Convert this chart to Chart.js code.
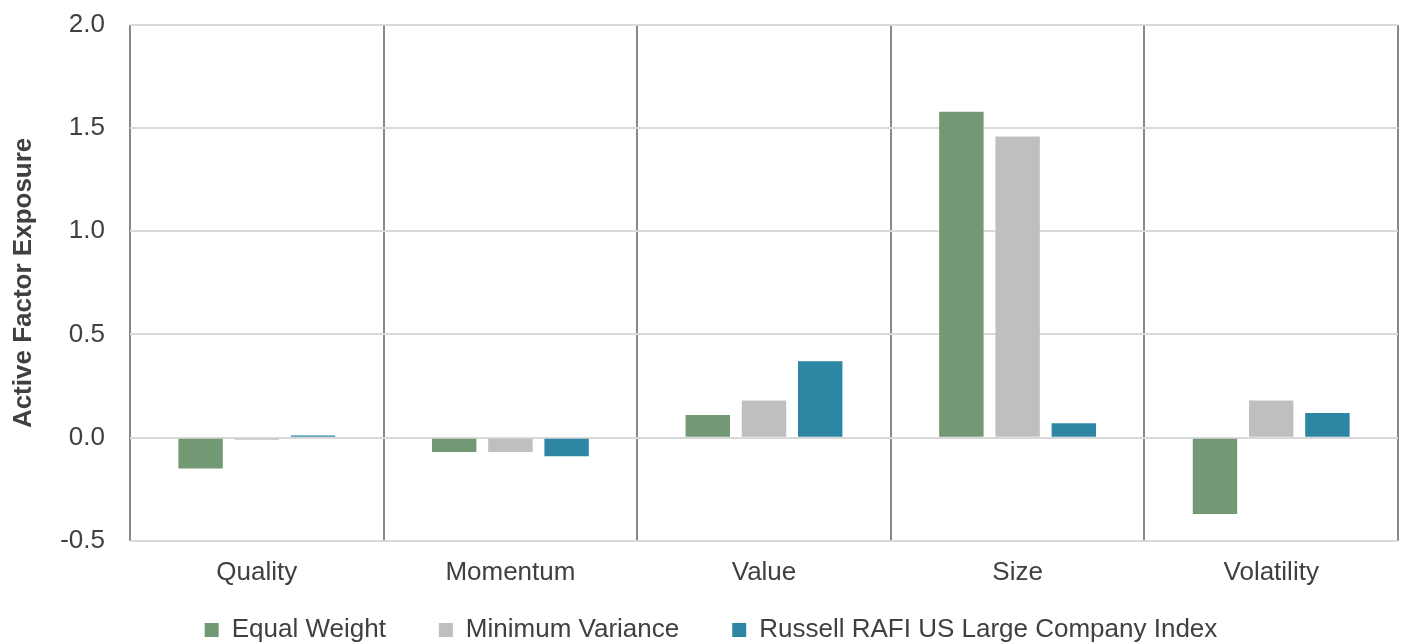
<!DOCTYPE html>
<html>
<head>
<meta charset="utf-8">
<script src="https://cdn.jsdelivr.net/npm/chart.js@4"></script>
<style>
  html, body { margin: 0; padding: 0; background: #fff; }
  #wrap { width: 1401px; height: 642px; position: relative; }
</style>
</head>
<body>
<div id="wrap"><canvas id="factorChart"></canvas></div>
<script>
// Chart data
const categories = ['Quality', 'Momentum', 'Value', 'Size', 'Volatility'];
const equalWeight = [-0.15, -0.07, 0.11, 1.58, -0.37];
const minVariance = [-0.01, -0.07, 0.18, 1.46, 0.18];
const rafiLarge = [0.01, -0.09, 0.37, 0.07, 0.12];
const seriesNames = ['Equal Weight', 'Minimum Variance', 'Russell RAFI US Large Company Index'];
const yTicks = [-0.5, 0.0, 0.5, 1.0, 1.5, 2.0];

const textColor = '#404040';
const fontFamily = 'Arial, "Liberation Sans", sans-serif';
const legendLift = 40;
const legendShift = 12;

function makeSet(label, data, color) {
    return {
        label: label,
        data: data,
        backgroundColor: color,
        borderWidth: 0,
        barPercentage: 0.79,
        categoryPercentage: 0.665
    };
}

// legend padding is shared by both directions, so move the box after layout
const moveLegend = {
    id: 'moveLegend',
    afterLayout(chart) {
        const lg = chart.legend;
        if (!lg) return;
        lg.top -= legendLift;
        lg.bottom -= legendLift;
        lg.left += legendShift;
        lg.right += legendShift;
    }
};

new Chart(document.getElementById('factorChart'), {
    type: 'bar',
    data: {
        labels: categories,
        datasets: [
            makeSet(seriesNames[0], equalWeight, '#729973'),
            makeSet(seriesNames[1], minVariance, '#bfbfbf'),
            makeSet(seriesNames[2], rafiLarge, '#2c86a4')
        ]
    },
    plugins: [moveLegend],
    options: {
        responsive: true,
        maintainAspectRatio: false,
        animation: false,
        layout: { padding: { top: 0, right: 3, left: 0, bottom: -11 - legendLift } },
        plugins: {
            legend: {
                position: 'bottom',
                labels: {
                    boxWidth: 14,
                    boxHeight: 14,
                    padding: 53,
                    color: textColor,
                    font: { family: fontFamily, size: 26 }
                }
            },
            tooltip: { enabled: false }
        },
        scales: {
            x: {
                offset: true,
                grid: {
                    offset: true,
                    drawTicks: false,
                    lineWidth: 2,
                    color: ctx => ctx.index === categories.length ? '#d9d9d9' : '#888888'
                },
                border: { display: false },
                ticks: {
                    padding: 16,
                    color: textColor,
                    font: { family: fontFamily, size: 26 }
                }
            },
            y: {
                min: -0.5,
                max: 2.0,
                afterBuildTicks: scale => { scale.ticks = yTicks.map(v => ({ value: v })); },
                afterFit: scale => { scale.width = 130; scale.paddingTop = 25; },
                grid: { drawTicks: false, lineWidth: 2, color: '#d9d9d9' },
                border: { display: false },
                ticks: {
                    padding: 25,
                    color: textColor,
                    font: { family: fontFamily, size: 26 },
                    callback: v => v.toFixed(1)
                },
                title: {
                    display: true,
                    text: 'Active Factor Exposure',
                    color: textColor,
                    padding: { top: 8, bottom: 0 },
                    font: { family: fontFamily, size: 26, weight: 'bold' }
                }
            }
        }
    }
});
</script>
</body>
</html>
